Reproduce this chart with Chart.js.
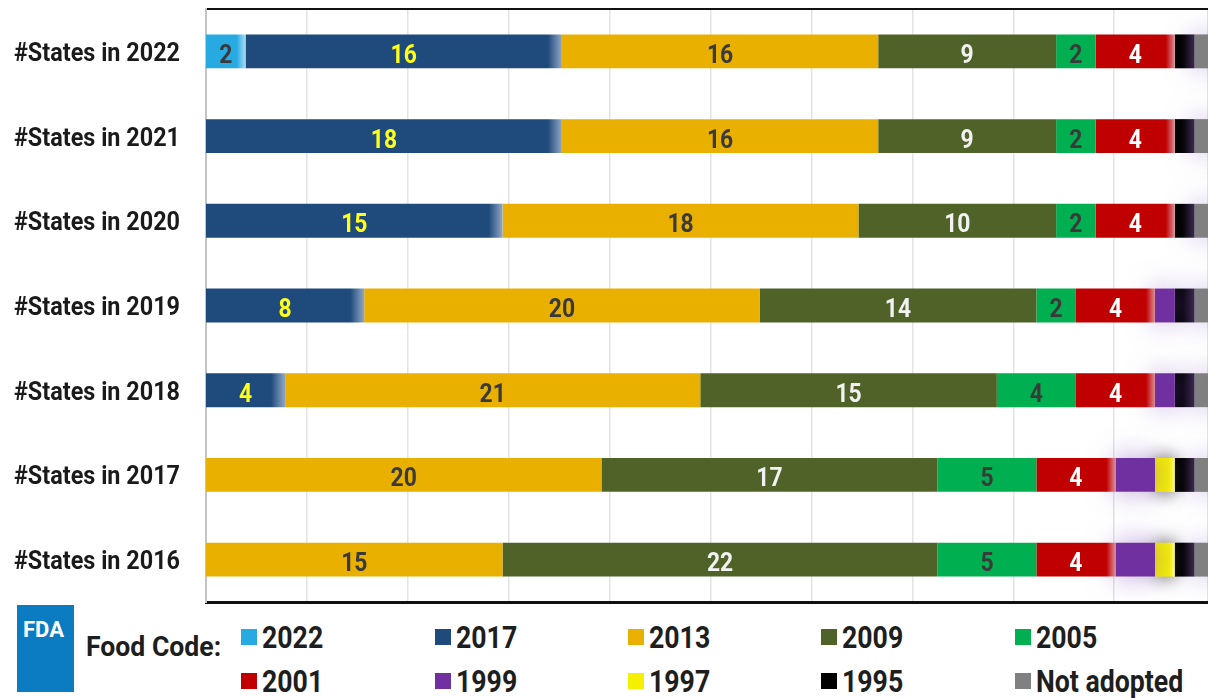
<!DOCTYPE html>
<html>
<head>
<meta charset="utf-8">
<script src="https://cdn.jsdelivr.net/npm/chart.js@4.4.1/dist/chart.umd.min.js"></script>
<style>
  html, body { margin: 0; padding: 0; background: #fff; }
  body { width: 1208px; height: 698px; overflow: hidden; position: relative; font-family: Roboto, sans-serif; }
  #wrap { position: absolute; left: 0; top: 0; width: 1208px; height: 604px; }
  .fda { position: absolute; left: 17px; top: 605px; width: 57px; height: 87px; background: #0b7cc2; }
  .fda span { position: absolute; left: 6px; top: 14px; color: #fff; font: bold 22px/22px Roboto, sans-serif;
              white-space: nowrap; }
  .fc { position: absolute; left: 86px; top: 633px; font-weight: bold; font-size: 28px; line-height: 28px; color: #1e1e1e;
        transform: scaleX(0.95); transform-origin: 0 0; white-space: nowrap; }
  .sw { position: absolute; width: 16px; height: 16px; }
  .lt { position: absolute; font-weight: bold; font-size: 31px; line-height: 31px; color: #1e1e1e; white-space: nowrap;
        transform: scaleX(0.86); transform-origin: 0 0; }
</style>
</head>
<body>
<div id="wrap"><canvas id="chart" width="1208" height="604"></canvas></div>
<div class="fda"><span>FDA</span></div>
<div class="fc">Food Code:</div>
<div id="legend"></div>
<script>
// rows, top to bottom
const categories = ['#States in 2022', '#States in 2021', '#States in 2020', '#States in 2019',
                    '#States in 2018', '#States in 2017', '#States in 2016'];

// number of states on each Food Code edition
const code2022 = [2, 0, 0, 0, 0, 0, 0];
const code2017 = [16, 18, 15, 8, 4, 0, 0];
const code2013 = [16, 16, 18, 20, 21, 20, 15];
const code2009 = [9, 9, 10, 14, 15, 17, 22];
const code2005 = [2, 2, 2, 2, 4, 5, 5];
const code2001 = [4, 4, 4, 4, 4, 4, 4];
const code1999 = [0, 0, 0, 1, 1, 2, 2];
const code1997 = [0, 0, 0, 0, 0, 1, 1];
const code1995 = [1, 1, 1, 1, 1, 1, 1];
const notAdopted = [1, 1, 1, 1, 1, 1, 1];

const seriesNames = ['2022', '2017', '2013', '2009', '2005', '2001', '1999', '1997', '1995', 'Not adopted'];
const seriesData = [code2022, code2017, code2013, code2009, code2005, code2001, code1999, code1997, code1995, notAdopted];
const seriesColors = ['#27a9e1', '#1f4a7c', '#e9b000', '#4f6228', '#00b050', '#c00000', '#7030a0', '#f5f000', '#000000', '#808080'];
const labelColors = ['#3a3a3a', '#ffff1a', '#3a3a3a', '#f2f2f2', '#3a3a3a', '#ffffff', null, null, null, null];

// x pixel range of a segment, from the stacked values
function segPixels(ctx) {
  const chart = ctx.chart, x = chart.scales.x;
  if (!x || ctx.dataIndex === undefined) return null;
  let start = 0;
  for (let d = 0; d < ctx.datasetIndex; d++) start += seriesData[d][ctx.dataIndex];
  const v = seriesData[ctx.datasetIndex][ctx.dataIndex];
  return [x.getPixelForValue(start), x.getPixelForValue(start + v)];
}

function fadeRight(from, to, px) {
  return function (ctx) {
    const p = segPixels(ctx);
    if (!p || !isFinite(p[0])) return from;
    const g = ctx.chart.ctx.createLinearGradient(p[1] - px, 0, p[1], 0);
    g.addColorStop(0, from);
    g.addColorStop(1, to);
    return g;
  };
}

function blackPurple(ctx) {
  const p = segPixels(ctx);
  if (!p || !isFinite(p[0])) return '#000';
  const g = ctx.chart.ctx.createLinearGradient(p[0], 0, p[1], 0);
  g.addColorStop(0, '#000');
  g.addColorStop(0.4, '#050308');
  g.addColorStop(1, '#3a2a4e');
  return g;
}

const fills = [
  fadeRight('#27a9e1', '#a8dcf3', 9),
  fadeRight('#1f4a7c', '#90a8c6', 14),
  seriesColors[2],
  seriesColors[3],
  seriesColors[4],
  fadeRight('#c00000', '#dc8e98', 9),
  seriesColors[6],
  fadeRight('#f5f000', '#ffff80', 6),
  blackPurple,
  seriesColors[9]
];

const glows = { 6: 'rgba(130,80,190,0.55)', 7: 'rgba(30,30,30,0.8)', 9: 'rgba(140,100,200,0.55)' };

const glowPlugin = {
  id: 'glow',
  beforeDatasetDraw(chart, args) {
    const c = glows[args.index];
    if (!c) return;
    chart.ctx.save();
    chart.ctx.shadowColor = c;
    chart.ctx.shadowBlur = args.index === 7 ? 18 : 28;
  },
  afterDatasetDraw(chart, args) {
    if (glows[args.index]) chart.ctx.restore();
  }
};

const FONT = 'Roboto, sans-serif';

// condensed bold text for row names and values
const textPlugin = {
  id: 'texts',
  afterDatasetsDraw(chart) {
    const ctx = chart.ctx;
    const y = chart.scales.y;
    ctx.save();
    ctx.font = 'bold 26px ' + FONT;
    ctx.fillStyle = '#1a1a1a';
    const k = 166 / ctx.measureText(categories[0]).width;
    categories.forEach((name, i) => {
      const py = y.getPixelForValue(i);
      ctx.save();
      ctx.translate(180, py + 9.5);
      ctx.scale(k, 1);
      ctx.textAlign = 'right';
      ctx.fillText(name, 0, 0);
      ctx.restore();
    });
    ctx.font = 'bold 26px ' + FONT;
    ctx.textAlign = 'center';
    chart.data.datasets.forEach((ds, di) => {
      if (!labelColors[di]) return;
      chart.getDatasetMeta(di).data.forEach((bar, i) => {
        const v = ds.data[i];
        if (!v) return;
        ctx.save();
        ctx.translate((bar.x + bar.base) / 2, bar.y + 11.5);
        ctx.scale(0.88, 1);
        ctx.fillStyle = labelColors[di];
        ctx.fillText(String(v), 0, 0);
        ctx.restore();
      });
    });
    ctx.restore();
  }
};

new Chart(document.getElementById('chart'), {
  type: 'bar',
  data: {
    labels: categories,
    datasets: seriesNames.map((name, i) => ({
      label: name,
      data: seriesData[i],
      backgroundColor: fills[i],
      borderWidth: 0,
      barPercentage: 1,
      categoryPercentage: 0.4
    }))
  },
  options: {
    indexAxis: 'y',
    responsive: false,
    animation: false,
    devicePixelRatio: 1,
    layout: { padding: { top: 9, right: 0, bottom: 2, left: 0 } },
    plugins: { legend: { display: false }, tooltip: { enabled: false } },
    scales: {
      x: {
        stacked: true, min: 0, max: 50.68,
        grid: { display: false, drawTicks: false },
        ticks: { display: false },
        border: { display: true, color: '#111', width: 3 }
      },
      xGrid: {
        axis: 'x', position: 'top', min: 0, max: 49.65,
        ticks: { display: false, stepSize: 5 },
        grid: { color: '#e3e3e3', lineWidth: 1.5, drawTicks: false },
        border: { display: true, color: '#111', width: 2 }
      },
      y: {
        stacked: true,
        grid: { display: false, drawTicks: false },
        border: { display: true, color: '#c4c4c4', width: 2 },
        ticks: { display: false },
        afterFit(scale) { scale.width = 206; }
      }
    }
  },
  plugins: [glowPlugin, textPlugin]
});

// legend, two rows of five
const colX = [241, 435, 628, 821, 1015];
const rowSq = [629, 673];
const rowTx = [622, 666];
const legend = document.getElementById('legend');
seriesNames.forEach((name, i) => {
  const col = i % 5, row = Math.floor(i / 5);
  const sq = document.createElement('div');
  sq.className = 'sw';
  sq.style.left = colX[col] + 'px';
  sq.style.top = rowSq[row] + 'px';
  sq.style.background = seriesColors[i];
  legend.appendChild(sq);
  const tx = document.createElement('div');
  tx.className = 'lt';
  tx.style.left = (colX[col] + 21) + 'px';
  tx.style.top = rowTx[row] + 'px';
  tx.textContent = name;
  legend.appendChild(tx);
});
</script>
</body>
</html>
